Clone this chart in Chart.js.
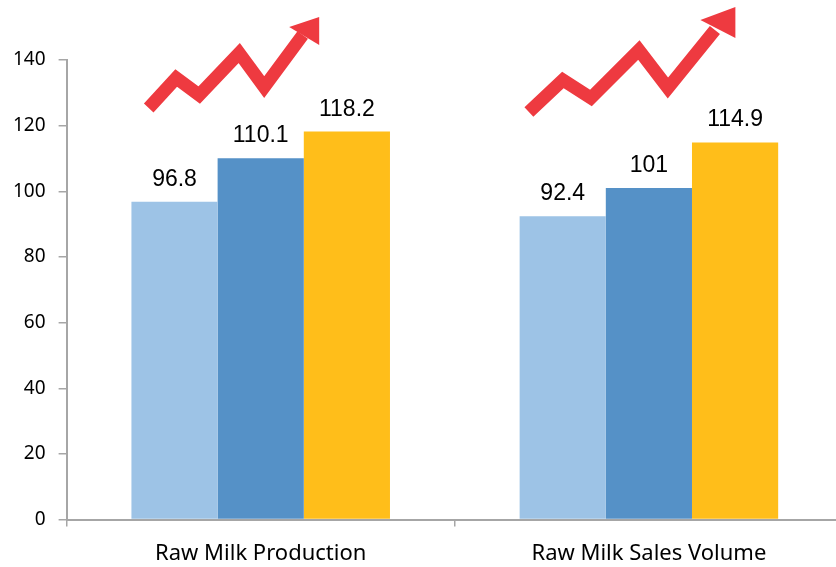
<!DOCTYPE html>
<html><head><meta charset="utf-8">
<script src="https://cdn.jsdelivr.net/npm/chart.js@4/dist/chart.umd.min.js"></script>
<style>
html,body{margin:0;padding:0;background:#fff;overflow:hidden;}
#wrap{width:843px;height:581px;position:relative;}
</style></head>
<body><div id="wrap"><canvas id="c"></canvas></div>
<script>
const categories = ["Raw Milk Production", "Raw Milk Sales Volume"];
const seriesA = [96.8, 92.4];
const seriesB = [110.1, 101];
const seriesC = [118.2, 114.9];
const seriesColors = ["#9DC3E6", "#5591C7", "#FFBE1A"];
const yTicks = [0, 20, 40, 60, 80, 100, 120, 140];

// arrow decorations: centreline offsets relative to category centre (x) and chart top (y)
const arrows = [
  {pts: [[-112,48],[-84.5,18],[-61.5,35],[-21.5,-7],[3.5,27],[42,-25]], tip:[58.5,-43], w1:[28.5,-33], w2:[58.5,-15]},
  {pts: [[-120,52],[-86,20],[-58,38],[-10,-10],[19,28],[66,-30]], tip:[86.5,-53], w1:[51.5,-40], w2:[86.5,-22]}
];

const valueLabels = {
  id: 'valueLabels',
  afterDatasetsDraw(chart) {
    const ctx = chart.ctx;
    ctx.save();
    ctx.fillStyle = '#000';
    ctx.font = '23px "Liberation Sans", Arial, sans-serif';
    ctx.textAlign = 'center';
    ctx.textBaseline = 'alphabetic';
    chart.data.datasets.forEach((ds, i) => {
      const meta = chart.getDatasetMeta(i);
      meta.data.forEach((bar, j) => {
        ctx.fillText(String(ds.data[j]), bar.x, bar.y - 16);
      });
    });
    ctx.restore();
  }
};

const arrowPlugin = {
  id: 'arrowPlugin',
  afterDatasetsDraw(chart) {
    const ctx = chart.ctx;
    const xs = chart.scales.x;
    const top = chart.chartArea.top;
    ctx.save();
    ctx.strokeStyle = '#EE3A40';
    ctx.fillStyle = '#EE3A40';
    ctx.lineWidth = 13;
    ctx.lineJoin = 'miter';
    ctx.lineCap = 'butt';
    arrows.forEach((a, i) => {
      const cx = xs.getPixelForValue(i);
      ctx.beginPath();
      a.pts.forEach((p, k) => {
        const X = cx + p[0], Y = top + p[1];
        if (k === 0) ctx.moveTo(X, Y); else ctx.lineTo(X, Y);
      });
      ctx.stroke();
      ctx.beginPath();
      ctx.moveTo(cx + a.tip[0], top + a.tip[1]);
      ctx.lineTo(cx + a.w1[0], top + a.w1[1]);
      ctx.lineTo(cx + a.w2[0], top + a.w2[1]);
      ctx.closePath();
      ctx.fill();
    });
    ctx.restore();
  }
};

new Chart(document.getElementById('c'), {
  type: 'bar',
  data: {
    labels: categories,
    datasets: [
      {data: seriesA, backgroundColor: seriesColors[0]},
      {data: seriesB, backgroundColor: seriesColors[1]},
      {data: seriesC, backgroundColor: seriesColors[2]}
    ]
  },
  options: {
    responsive: true,
    maintainAspectRatio: false,
    animation: false,
    layout: {padding: {top: 60, right: 0, left: 0, bottom: 0}},
    datasets: {bar: {categoryPercentage: 0.666, barPercentage: 1.0, borderWidth: 0}},
    plugins: {legend: {display: false}, tooltip: {enabled: false}},
    scales: {
      x: {
        grid: {display: true, drawOnChartArea: false, offset: true, color: '#A6A6A6', tickLength: 7, lineWidth: 1.5},
        border: {display: true, color: '#A6A6A6', width: 2},
        ticks: {color: '#000', font: {family: '"Noto Sans", "Open Sans", sans-serif', size: 22}, padding: 14}
      },
      y: {
        min: 0, max: 140,
        afterBuildTicks(scale) { scale.ticks = yTicks.map(v => ({value: v})); },
        grid: {display: true, drawOnChartArea: false, color: '#A6A6A6', tickLength: 8, lineWidth: 1.5},
        border: {display: true, color: '#A6A6A6', width: 2},
        ticks: {color: '#000', font: {family: '"Noto Sans", "Open Sans", sans-serif', size: 19}, padding: 13}
      }
    }
  },
  plugins: [valueLabels, arrowPlugin]
});
</script>
</body></html>
